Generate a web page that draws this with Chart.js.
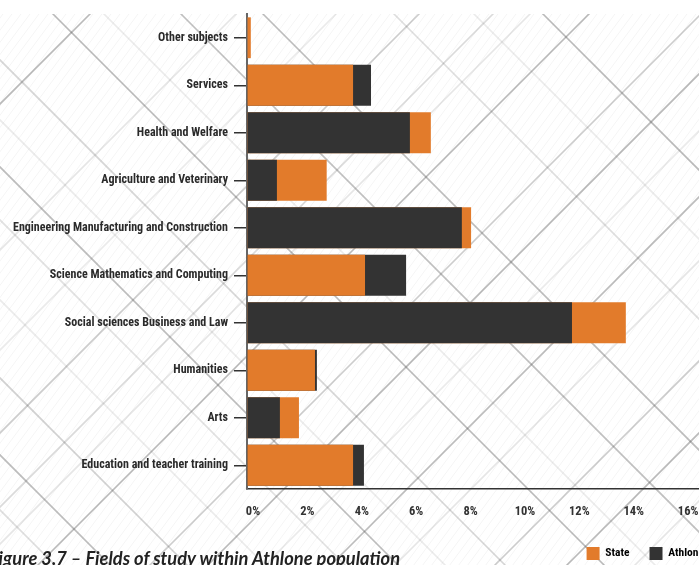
<!DOCTYPE html>
<html>
<head>
<meta charset="utf-8">
<script src="https://cdn.jsdelivr.net/npm/chart.js@4/dist/chart.umd.min.js"></script>
<style>
  html, body { margin: 0; padding: 0; background: #fff; overflow: hidden; width: 699px; height: 565px; }
  #wrap { position: absolute; left: 0; top: 0; width: 724px; height: 565px; }
  #caption {
    position: absolute; left: -11px; top: 547px; white-space: nowrap;
    font: italic 700 18.3px Lato, sans-serif; color: #222; line-height: 22px;
  }
</style>
</head>
<body>
<div id="wrap"><canvas id="chart" width="724" height="565"></canvas></div>
<div id="caption">Figure 3.7 – Fields of study within Athlone population</div>
<script>
// Fields of study, share of population (%)
const categories = [
  'Other subjects',
  'Services',
  'Health and Welfare',
  'Agriculture and Veterinary',
  'Engineering Manufacturing and Construction',
  'Science Mathematics and Computing',
  'Social sciences Business and Law',
  'Humanities',
  'Arts',
  'Education and teacher training'
];
const stateValues   = [0.14, 3.90, 6.76, 2.93, 8.24, 4.34, 13.93, 2.50, 1.91, 3.90];
const athloneValues = [0.00, 4.56, 5.99, 1.10, 7.90, 5.85, 11.95, 2.57, 1.21, 4.30];
const seriesNames = ['State', 'Athlone'];
const xTickValues = [0, 2, 4, 6, 8, 10, 12, 14, 16];

const ORANGE = '#E27B2B';
const DARK = '#333333';
const LABEL_FONT = "'Roboto Condensed', 'Open Sans Condensed', sans-serif";

// Overlapping bars: the longer bar sits behind, the shorter one in front.
const backData = stateValues.map((s, i) => Math.max(s, athloneValues[i]));
const backColors = stateValues.map((s, i) => (s >= athloneValues[i] ? ORANGE : DARK));
const frontData = stateValues.map((s, i) => Math.min(s, athloneValues[i]));
const frontColors = stateValues.map((s, i) => (s >= athloneValues[i] ? DARK : ORANGE));

// Decorative diagonal line backdrop
const backdrop = {
  id: 'backdrop',
  beforeDraw(chart) {
    const ctx = chart.ctx;
    const W = chart.width, H = chart.height;
    ctx.save();
    ctx.beginPath();
    ctx.rect(0, 14, W, H - 14);
    ctx.clip();
    // fine hatching
    ctx.strokeStyle = 'rgba(0,0,0,0.045)';
    ctx.lineWidth = 1;
    for (let c = -600; c < 1400; c += 9) {
      ctx.beginPath();
      ctx.moveTo(c, H + 20);
      ctx.lineTo(c + (H + 40) / 1.35, -20);
      ctx.stroke();
    }
    const down = [[-529, 0.42], [-380, 0.2], [-249, 0.4], [-167, 0.38], [-39, 0.42], [60, 0.25],
                  [120, 0.12], [167, 0.4], [220, 0.18], [300, 0.12], [378, 0.28], [455, 0.4], [510, 0.2], [-460, 0.12], [-90, 0.12]];
    const up = [[104, 0.42], [250, 0.15], [433, 0.3], [507, 0.22], [544, 0.15], [603, 0.42], [715, 0.3],
                [773, 0.42], [830, 0.12], [896, 0.4], [960, 0.15], [1060, 0.3], [1132, 0.42], [1200, 0.15], [350, 0.12]];
    ctx.lineWidth = 1.6;
    down.forEach(([c, a]) => {
      ctx.strokeStyle = 'rgba(90,90,90,' + a + ')';
      ctx.beginPath();
      ctx.moveTo(-50, -50 + c);
      ctx.lineTo(1000, 1000 + c);
      ctx.stroke();
    });
    up.forEach(([c, a]) => {
      ctx.strokeStyle = 'rgba(90,90,90,' + a + ')';
      ctx.beginPath();
      ctx.moveTo(-50, c + 50);
      ctx.lineTo(1400, c - 1400);
      ctx.stroke();
    });
    ctx.restore();
  }
};

function buildChart() {
  new Chart(document.getElementById('chart'), {
    type: 'bar',
    data: {
      labels: categories,
      datasets: [
        { label: 'back', data: backData, backgroundColor: backColors, order: 2 },
        { label: 'front', data: frontData, backgroundColor: frontColors, order: 1 }
      ]
    },
    options: {
      indexAxis: 'y',
      responsive: false,
      animation: false,
      devicePixelRatio: 1,
      layout: { padding: { top: 14, left: 0, right: 0, bottom: 0 } },
      datasets: { bar: { grouped: false, categoryPercentage: 1, barPercentage: 0.86 } },
      scales: {
        x: {
          min: 0,
          max: 17.54,
          afterBuildTicks(scale) {
            scale.ticks = xTickValues.map(v => ({ value: v }));
          },
          afterFit(scale) { scale.height = 38; },
          grid: { display: true, drawOnChartArea: false, drawTicks: false },
          border: { display: true, color: '#333', width: 1.6 },
          ticks: {
            padding: 15,
            labelOffset: 6,
            color: '#333',
            font: { family: LABEL_FONT, size: 12.5, weight: 'bold' },
            callback: v => v + '%'
          }
        },
        y: {
          afterFit(scale) { scale.width = 247; },
          grid: { display: true, offset: false, drawOnChartArea: false, drawTicks: true, tickLength: 13, color: '#333', lineWidth: 1.5 },
          border: { display: true, color: '#666', width: 2 },
          ticks: {
            padding: 6,
            color: '#2a2a2a',
            font: { family: LABEL_FONT, size: 12, weight: 'bold' }
          }
        }
      },
      plugins: {
        tooltip: { enabled: false },
        legend: {
          position: 'bottom',
          align: 'end',
          maxHeight: 38,
          onClick: null,
          labels: {
            boxWidth: 13,
            boxHeight: 13,
            padding: 20,
            color: '#2a2a2a',
            font: { family: LABEL_FONT, size: 11.5, weight: 'bold' },
            generateLabels: () => seriesNames.map((name, i) => ({
              text: name,
              fillStyle: i === 0 ? ORANGE : DARK,
              strokeStyle: i === 0 ? ORANGE : DARK,
              lineWidth: 0,
              hidden: false,
              datasetIndex: i
            }))
          }
        }
      }
    },
    plugins: [backdrop]
  });
}

// make sure the condensed face is ready before the canvas measures text
if (document.fonts && document.fonts.load) {
  Promise.all([
    document.fonts.load("bold 12px 'Roboto Condensed'"),
    document.fonts.load("italic 700 18px Lato")
  ]).then(buildChart, buildChart);
} else {
  buildChart();
}
</script>
</body>
</html>
